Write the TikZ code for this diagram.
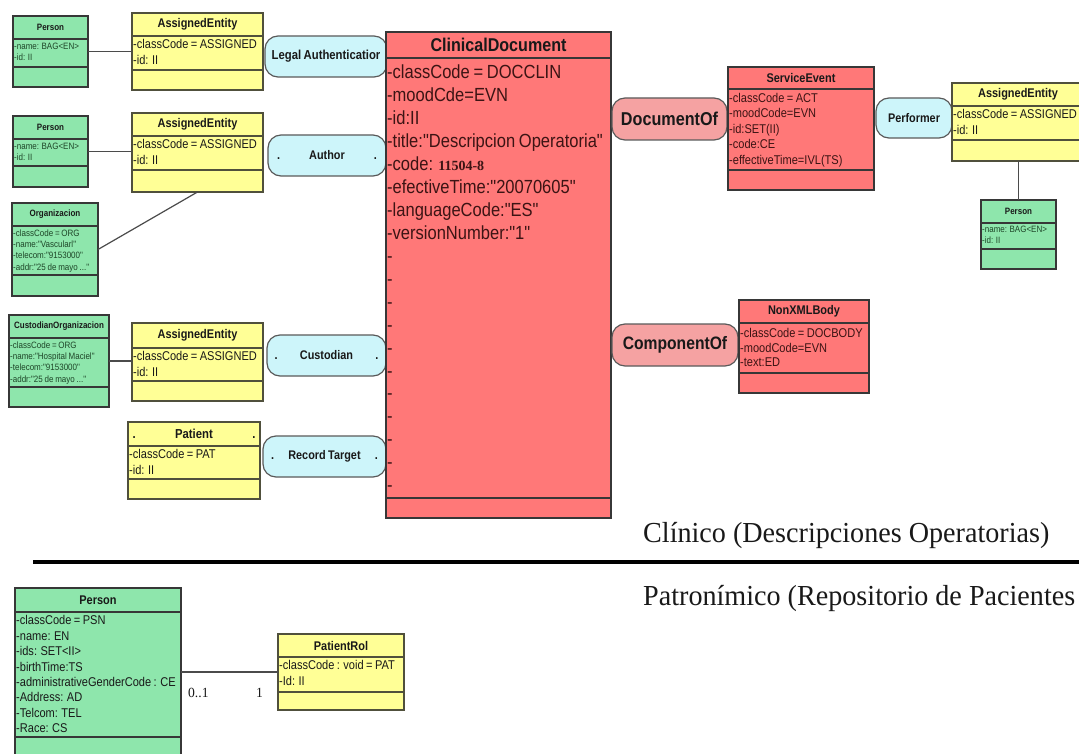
\documentclass[tikz,border=0pt]{standalone}
\usepackage{fontspec}
\setmainfont{Liberation Sans}[FakeStretch=0.87, WordSpace=0.8, Ligatures=TeXOff]
\newfontfamily\capfont{Liberation Serif}[FakeStretch=0.97]
\newfontfamily\codefont{Liberation Serif}
\definecolor{gfill}{RGB}{142,230,172}
\definecolor{yfill}{RGB}{255,255,150}
\definecolor{rfill}{RGB}{255,120,120}
\definecolor{pfill}{RGB}{245,162,162}
\definecolor{cfill}{RGB}{205,245,250}
\definecolor{bordc}{RGB}{55,55,55}
\definecolor{yborder}{RGB}{80,80,60}
\definecolor{lborder}{RGB}{90,90,90}
\definecolor{tcol}{RGB}{25,25,25}
\definecolor{gtext}{RGB}{30,70,40}
\definecolor{rtext}{RGB}{60,20,20}
\definecolor{conncol}{RGB}{75,75,75}
% name, style, x1, y1, x2, y2, sep1, sep2
\newcommand\umlbox[8]{%
  \node[#2, minimum width={#5-#3}, minimum height={#6-#4}] (#1) at (#3,#4) {};
  \draw[#2] (#3,#7) -- (#5,#7) (#3,#8) -- (#5,#8);
}
% name, style, x1, y1, x2, y2, text
\newcommand\lblbox[7]{%
  \node[#2, minimum width={#5-#3}, minimum height={#6-#4}] (#1) at (#3,#4) {};
  \node[lblt] (#1-t) at ({(#3+#5)/2},{(#4+#6)/2}) {#7};
}
\begin{document}
\begin{tikzpicture}[x=1pt,y=-1pt,
  box/.style={draw=bordc, line width=1.2pt, outer sep=0pt, inner sep=0pt, anchor=north west},
  gbox/.style={box, fill=gfill},
  ybox/.style={box, fill=yfill, draw=yborder},
  rbox/.style={box, fill=rfill},
  lbl/.style={box, rounded corners=13pt, fill=cfill, draw=lborder},
  plbl/.style={box, rounded corners=13pt, fill=pfill, draw=lborder},
  tS/.style={font=\bfseries\fontsize{9.2}{11.3}\selectfont, text=tcol, inner sep=0pt},
  aS/.style={font=\fontsize{9.2}{11.3}\selectfont, text=gtext, inner sep=0pt, anchor=north west, align=left},
  tM/.style={font=\bfseries\fontsize{12.6}{15.4}\selectfont, text=tcol, inner sep=0pt},
  aM/.style={font=\fontsize{12.7}{15.4}\selectfont, text=tcol, inner sep=0pt, anchor=north west, align=left},
  lblt/.style={font=\bfseries\fontsize{12.5}{15}\selectfont, text=tcol, inner sep=0pt},
  conn/.style={draw=conncol, line width=1.2pt},
]
\clip (0,0) rectangle (1079,754);
\fill[white] (0,0) rectangle (1079,754);

% ---------- labels (left) ----------
\lblbox{la}{lbl}{265}{36}{387}{77}{\fontsize{13}{15}\selectfont Legal Authenticatior}
\lblbox{au}{lbl}{268}{135}{386}{176}{\makebox[100pt]{.\hfill Author\hfill .}}
\lblbox{cu}{lbl}{267}{335}{386}{376}{\makebox[104pt]{.\hfill Custodian\hfill .}}
\lblbox{rt}{lbl}{263}{436}{386}{477}{\makebox[107pt]{.\hfill Record Target\hfill .}}

% ---------- Person 1 / AssignedEntity 1 ----------
\umlbox{p1}{gbox}{13}{16}{88}{87}{39}{67}
\node[tS] (p1-t) at (50.5,27.5) {Person};
\node[aS] (p1-a) at (14,43) {-name: BAG<EN>\\-id: II};
\umlbox{ae1}{ybox}{132}{13}{263}{90}{36}{70}
\node[tM] (ae1-t) at (197.5,24.5) {AssignedEntity};
\node[aM] (ae1-a) at (133,39.5) {-classCode = ASSIGNED\\-id: II};

% ---------- Person 2 / AssignedEntity 2 ----------
\umlbox{p2}{gbox}{13}{116}{88}{187}{139}{166}
\node[tS] (p2-t) at (50.5,127.5) {Person};
\node[aS] (p2-a) at (14,142.5) {-name: BAG<EN>\\-id: II};
\umlbox{ae2}{ybox}{132}{113}{263}{192}{136}{170}
\node[tM] (ae2-t) at (197.5,124.5) {AssignedEntity};
\node[aM] (ae2-a) at (133,139.5) {-classCode = ASSIGNED\\-id: II};

% ---------- Organizacion ----------
\umlbox{org}{gbox}{12}{203}{98}{296}{226}{275}
\node[tS] (org-t) at (55,214.5) {Organizacion};
\node[aS] (org-a) at (13,229.5) {-classCode = ORG\\-name:"Vascularl"\\-telecom:"9153000"\\-addr:"25 de mayo ..."};

% ---------- CustodianOrganizacion / AssignedEntity 3 ----------
\umlbox{cust}{gbox}{9}{315}{109}{407}{338}{387}
\node[tS] (cust-t) at (59,326.5) {CustodianOrganizacion};
\node[aS] (cust-a) at (10,341.5) {-classCode = ORG\\-name:"Hospital Maciel"\\-telecom:"9153000"\\-addr:"25 de mayo ..."};
\umlbox{ae3}{ybox}{132}{323}{263}{401}{348}{381}
\node[tM] (ae3-t) at (197.5,335.5) {AssignedEntity};
\node[aM] (ae3-a) at (133,351.5) {-classCode = ASSIGNED\\-id: II};

% ---------- Patient ----------
\umlbox{pat}{ybox}{128}{422}{260}{499}{446}{479}
\node[tM] (pat-t) at (194,434) {\fontsize{13}{15}\selectfont\makebox[123pt]{.\hfill Patient\hfill .}};
\node[aM] (pat-a) at (129,449.5) {-classCode = PAT\\-id: II};

% ---------- ClinicalDocument ----------
\umlbox{cd}{rbox}{386}{32}{611}{518}{58}{498}
\node[tM, font=\bfseries\fontsize{18.5}{22}\selectfont] (cd-t) at (498.5,45) {ClinicalDocument};
\node[aM, text=rtext, font=\fontsize{19}{22.95}\selectfont] (cd-a) at (387,64.7)
  {-classCode = DOCCLIN\\-moodCde=EVN\\-id:II\\-title:"Descripcion Operatoria"\\
   -code: {\codefont\bfseries\fontsize{14}{22.95}\selectfont 11504-8}\\-efectiveTime:"20070605"\\
   -languageCode:"ES"\\-versionNumber:"1"\\-\\-\\-\\-\\-\\-\\-\\-\\-\\-\\-};

% ---------- DocumentOf / ServiceEvent ----------
\lblbox{docof}{plbl}{612}{98}{727}{140}{\fontsize{18.6}{20}\selectfont DocumentOf}
\umlbox{se}{rbox}{728}{67}{874}{190}{89}{170}
\node[tM] (se-t) at (801,78) {ServiceEvent};
\node[aM, text=rtext, font=\fontsize{12.7}{15.5}\selectfont] (se-a) at (729,93)
  {-classCode = ACT\\-moodCode=EVN\\-id:SET(II)\\-code:CE\\-effectiveTime=IVL(TS)};

% ---------- Performer / AssignedEntity right / Person right ----------
\lblbox{perf}{lbl}{876}{98}{952}{138}{Performer}
\umlbox{aer}{ybox}{952}{83}{1084}{161}{106}{140}
\node[tM] (aer-t) at (1018,94.5) {AssignedEntity};
\node[aM] (aer-a) at (953,109.5) {-classCode = ASSIGNED\\-id: II};
\umlbox{pr}{gbox}{981}{200}{1056}{269}{223}{249}
\node[tS] (pr-t) at (1018.5,211.5) {Person};
\node[aS] (pr-a) at (982,226) {-name: BAG<EN>\\-id: II};

% ---------- ComponentOf / NonXMLBody ----------
\lblbox{compof}{plbl}{612}{324}{738}{366}{\fontsize{18}{20}\selectfont ComponentOf}
\umlbox{nxb}{rbox}{739}{300}{869}{393}{323}{373}
\node[tM] (nxb-t) at (804,311.5) {NonXMLBody};
\node[aM, text=rtext, font=\fontsize{12.7}{14.6}\selectfont] (nxb-a) at (740,328)
  {-classCode = DOCBODY\\-moodCode=EVN\\-text:ED};

% ---------- captions and divider ----------
\node[anchor=base west, inner sep=0pt, font=\capfont\fontsize{29}{32}\selectfont, text=tcol] (clin) at (643,542) {Clínico (Descripciones Operatorias)};
\draw[line width=3.6pt, black] (33,562) -- (1079,562);
\node[anchor=base west, inner sep=0pt, font=\capfont\fontsize{29}{32}\selectfont, text=tcol] (patr) at (643,605) {Patronímico (Repositorio de Pacientes};

% ---------- Person bottom / PatientRol ----------
\umlbox{pb}{gbox}{15}{588}{181}{775}{612}{737}
\node[tM] (pb-t) at (98,600) {Person};
\node[aM] (pb-a) at (16,615.5) {-classCode = PSN\\-name: EN\\-ids: SET<II>\\-birthTime:TS\\-administrativeGenderCode : CE\\-Address: AD\\-Telcom: TEL\\-Race: CS};
\umlbox{prol}{ybox}{278}{634}{404}{710}{657}{692}
\node[tM] (prol-t) at (341,645.5) {PatientRol};
\node[aM] (prol-a) at (279,660.5) {-classCode : void = PAT\\-Id: II};
\node[anchor=base west, inner sep=0pt, font=\capfont\fontsize{14}{16}\selectfont, text=tcol] (m01) at (188,697) {0..1};
\node[anchor=base west, inner sep=0pt, font=\capfont\fontsize{14}{16}\selectfont, text=tcol] (m1) at (256,697) {1};

% ---------- connectors ----------
\draw[conn] (p1.east) -- (p1.east -| ae1.west);
\draw[conn] (p2.east) -- (p2.east -| ae2.west);
\draw[conn] (org.east) -- (ae2.south);
\draw[conn] (cust.east) -- (cust.east -| ae3.west);
\draw[conn] (pr.north) -- (pr.north |- aer.south);
\draw[conn] (prol.west) -- (prol.west -| pb.east);
\end{tikzpicture}
\end{document}
